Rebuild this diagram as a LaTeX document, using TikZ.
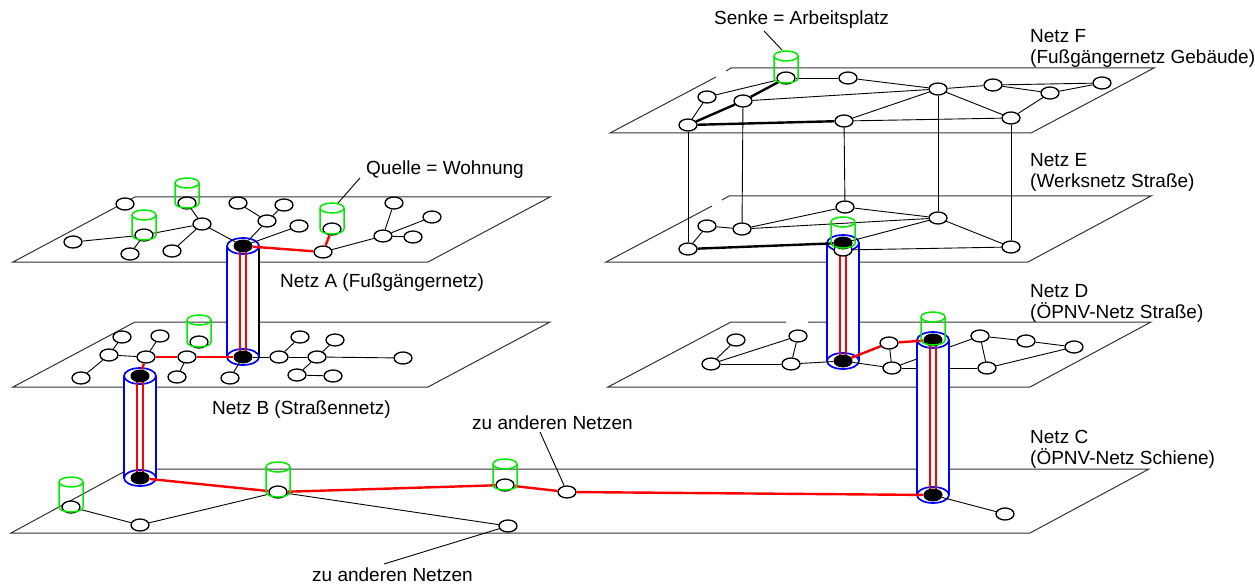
\documentclass[tikz,border=0pt]{standalone}
\usepackage{fontspec}
\setmainfont{Liberation Sans}
\usetikzlibrary{shapes.geometric,calc}
\definecolor{gr}{RGB}{0,235,0}
\pgfdeclarelayer{bg}\pgfdeclarelayer{tb}\pgfdeclarelayer{te}\pgfdeclarelayer{fg}
\pgfsetlayers{bg,main,tb,te,fg}
\newcommand\tubedraw[3]{%
 \fill[white] ($(#1)+(-16,0)$) rectangle ($(#2)+(16,0)$);
 \fill[white] (#2) ellipse[x radius=16,y radius=8];
 \draw[blue,line width=1.7pt] ($(#1)+(-16,0)$) -- ($(#2)+(-16,0)$);
 \draw[#3,line width=1.7pt] ($(#1)+(16,0)$) -- ($(#2)+(16,0)$);
 \draw[blue,line width=1.7pt] (#1) ellipse[x radius=16,y radius=8];
 \draw[blue,line width=1.7pt] (#2) ellipse[x radius=16,y radius=8];
 \draw[red,line width=1.8pt] ($(#1)+(-2.7,0)$) -- ($(#2)+(-2.7,0)$);
 \draw[red,line width=2.1pt] ($(#1)+(2.7,0)$) -- ($(#2)+(2.7,0)$);
}
\newcommand\gcyl[2][22]{%
 \draw[gr,line width=1.5pt] ($(#2)+(-12,-#1)$) -- ($(#2)+(-12,0)$) arc[start angle=180,end angle=0,x radius=12,y radius=5] -- ($(#2)+(12,-#1)$);
 \draw[gr,line width=1.5pt] ($(#2)+(0,-#1)$) ellipse[x radius=12,y radius=5];
}
\begin{document}
\begin{tikzpicture}[x=1pt,y=-1pt,
  plane/.style={draw=black!80,line width=1pt},
  nd/.style={ellipse,draw,line width=1.3pt,fill=white,minimum width=18pt,minimum height=12pt,inner sep=0pt},
  bn/.style={ellipse,fill=black,minimum width=19pt,minimum height=13pt,inner sep=0pt},
  ed/.style={line width=0.9pt},
  thk/.style={line width=2.4pt},
  rd/.style={draw=red,line width=2.4pt},
  lbl/.style={font=\fontsize{19}{21}\selectfont,inner sep=0pt,anchor=west,align=left}]
\useasboundingbox (0,0) rectangle (1255,588);

% ---------- black tube nodes (top layer)
\begin{pgfonlayer}{fg}
\node[bn] (aT) at (243,246) {};
\node[bn] (bT) at (243,357) {};
\node[bn] (bT2) at (140,376) {};
\node[bn] (cT) at (140,478) {};
\node[bn] (cT2) at (933,495) {};
\node[bn] (dT) at (843,361) {};
\node[bn] (dT2) at (933,340) {};
\node[bn] (eT) at (843,243) {};
\end{pgfonlayer}

% ---------- regular nodes
% plane A
\node[nd] (a1) at (125,204) {};
\node[nd] (a2) at (73,242) {};
\node[nd] (a3) at (144,235) {};
\node[nd] (a4) at (130,254) {};
\node[nd] (a5) at (187,203) {};
\node[nd] (a6) at (202,224) {};
\node[nd] (a7) at (172,251) {};
\node[nd] (a8) at (238,203) {};
\node[nd] (a9) at (284,205) {};
\node[nd] (a10) at (267,221) {};
\node[nd] (a11) at (299,226) {};
\node[nd] (a12) at (332,229) {};
\node[nd] (a13) at (323,252) {};
\node[nd] (a14) at (394,203) {};
\node[nd] (a15) at (383,236) {};
\node[nd] (a16) at (432,217) {};
\node[nd] (a17) at (413,237) {};
% plane B
\node[nd] (b1) at (122,337) {};
\node[nd] (b2) at (160,336) {};
\node[nd] (b3) at (109,355) {};
\node[nd] (b4) at (146,357) {};
\node[nd] (b5) at (81,378) {};
\node[nd] (b6) at (177,377) {};
\node[nd] (b7) at (187,357) {};
\node[nd] (b8) at (199,342) {};
\node[nd] (b9) at (230,378) {};
\node[nd] (b10) at (279,357) {};
\node[nd] (b11) at (300,337) {};
\node[nd] (b12) at (317,357) {};
\node[nd] (b13) at (335,340) {};
\node[nd] (b14) at (297,375) {};
\node[nd] (b15) at (333,376) {};
\node[nd] (b16) at (403,358) {};
% plane C
\node[nd] (c1) at (71,507) {};
\node[nd] (c2) at (140,525) {};
\node[nd] (c3) at (278,492) {};
\node[nd] (c4) at (508,526) {};
\node[nd] (c5) at (505,485) {};
\node[nd] (c6) at (567,492) {};
\node[nd] (c7) at (1005,514) {};
% plane D
\node[nd] (d1) at (736,340) {};
\node[nd] (d2) at (798,336) {};
\node[nd] (d3) at (711,364) {};
\node[nd] (d4) at (791,364) {};
\node[nd] (d5) at (889,343) {};
\node[nd] (d6) at (892,368) {};
\node[nd] (d7) at (980,336) {};
\node[nd] (d8) at (1026,341) {};
\node[nd] (d9) at (987,368) {};
\node[nd] (d10) at (1074,347) {};
% plane E
\node[nd] (e1) at (688,249) {};
\node[nd] (e2) at (707,226) {};
\node[nd] (e3) at (742,229) {};
\node[nd] (e4) at (845,207) {};
\node[nd] (e6) at (938,218) {};
\node[nd] (e7) at (1011,247) {};
% plane F
\node[nd] (f1) at (786,78) {};
\node[nd] (f2) at (848,78) {};
\node[nd] (f3) at (707,97) {};
\node[nd] (f4) at (743,101) {};
\node[nd] (f5) at (688,125) {};
\node[nd] (f6) at (844,121) {};
\node[nd] (f7) at (938,89) {};
\node[nd] (f8) at (993,85) {};
\node[nd] (f9) at (1050,93) {};
\node[nd] (f10) at (1102,83) {};
\node[nd] (f11) at (1011,118) {};

% ---------- planes and regular edges
\begin{pgfonlayer}{bg}
\fill[white] (0,0) rectangle (1255,588);
\draw[plane] (13,262) -- (428,262) -- (550,197) -- (135,197) -- cycle;
\draw[plane] (13,387) -- (428,387) -- (550,322) -- (135,322) -- cycle;
\draw[plane] (11,533) -- (1030,533) -- (1149,469) -- (129,469) -- cycle;
\draw[plane] (786,322) -- (731,322) -- (608,387) -- (1030,387) -- (1151,322) -- (808,322);
\draw[plane] (712,206) -- (606,262) -- (1028,262) -- (1151,196) -- (729,196) -- (722,200);
\draw[plane] (716,77) -- (610,133) -- (1031,133) -- (1154,68) -- (731,68) -- (726,71);
% A
\draw[ed] (a2) -- (a3);
\draw[ed] (a3) -- (a6);
\draw[ed] (a4) -- (a3);
\draw[ed] (a5) -- (a6);
\draw[ed] (a6) -- (a7);
\draw[ed] (a8) -- (a10);
\draw[ed] (a9) -- (a10);
\draw[ed] (a13) -- (a15);
\draw[ed] (a15) -- (a14);
\draw[ed] (a15) -- (a16);
\draw[ed] (a15) -- (a17);
% B
\draw[ed] (b1) -- (b3);
\draw[ed] (b3) -- (b5);
\draw[ed] (b3) -- (b4);
\draw[ed] (b2) -- (b4);
\draw[ed] (b7) -- (b6);
\draw[ed] (b10) -- (b11);
\draw[ed] (b10) -- (b12);
\draw[ed] (b12) -- (b13);
\draw[ed] (b12) -- (b14);
\draw[ed] (b14) -- (b15);
\draw[ed] (b12) -- (b16);
% C
\draw[ed] (c1) -- (c2);
\draw[ed] (c2) -- (c3);
\draw[ed] (c3) -- (c4);
% D
\draw[ed] (d1) -- (d3);
\draw[ed] (d3) -- (d2);
\draw[ed] (d2) -- (d4);
\draw[ed] (d3) -- (d4);
\draw[ed] (d5) -- (d6);
\draw[ed] (d6) -- (d7);
\draw[ed] (d6) -- (d9);
\draw[ed] (d7) -- (d8);
\draw[ed] (d7) -- (d9);
\draw[ed] (d8) -- (d10);
\draw[ed] (d9) -- (d10);
% E
\draw[ed] (e1) -- (e2);
\draw[ed] (e2) -- (e3);
\draw[ed] (e3) -- (e4);
\draw[ed] (e4) -- (e6);
\draw[ed] (e3) -- (e6);
\draw[ed] (e6) -- (e7);
% F
\draw[ed] (f3) -- (f1);
\draw[thk] (f4) -- (f1);
\draw[ed] (f1) -- (f2);
\draw[ed] (f2) -- (f7);
\draw[ed] (f4) -- (f7);
\draw[ed] (f3) -- (f5);
\draw[thk] (f5) -- (f4);
\draw[thk] (f5) -- (f6);
\draw[ed] (f6) -- (f7);
\draw[ed] (f6) -- (f11);
\draw[ed] (f7) -- (f8);
\draw[ed] (f7) -- (f11);
\draw[ed] (f8) -- (f10);
\draw[ed] (f8) -- (f9);
\draw[ed] (f9) -- (f10);
\draw[ed] (f9) -- (f11);
% F to E
\draw[ed] (f5) -- (e1);
\draw[ed] (f4) -- (e3);
\draw[ed] (f6) -- (e4);
\draw[ed] (f7) -- (e6);
\draw[ed] (f11) -- (e7);
\end{pgfonlayer}

% ---------- tubes
\begin{pgfonlayer}{tb}
\tubedraw{aT}{bT}{black}
\tubedraw{bT2}{cT}{blue}
\tubedraw{eT}{dT}{blue}
\tubedraw{dT2}{cT2}{blue}
\end{pgfonlayer}

% ---------- edges at tube nodes
\begin{pgfonlayer}{te}
\node[nd] (e5) at (843,250) {};
\draw[ed] (a6) -- (aT);
\draw[ed] (aT) -- (a10);
\draw[ed] (aT) -- (a11);
\draw[rd] (aT) -- (a13);
\draw[rd] (a13) -- (a12);
\draw[rd] (b4) -- (b7);
\draw[rd] (b7) -- (bT);
\draw[rd] (b4) -- (bT2);
\draw[ed] (bT) -- (b9);
\draw[ed] (bT) -- (b10);
\draw[rd] (cT) -- (c3);
\draw[rd] (c3) -- (c5);
\draw[rd] (c5) -- (c6);
\draw[rd] (c6) -- (cT2);
\draw[ed] (cT2) -- (c7);
\draw[ed] (d4) -- (dT);
\draw[ed] (dT) -- (d6);
\draw[rd] (dT) -- (d5);
\draw[rd] (d5) -- (dT2);
\draw[thk] (e1) -- (eT);
\draw[ed] (eT) -- (e6);
\draw[ed] (e5) -- (e7);
\end{pgfonlayer}

% ---------- cylinders, labels
\begin{pgfonlayer}{fg}
\gcyl[20]{a5}
\gcyl[20]{a3}
\gcyl[21]{a12}
\gcyl[22]{b8}
\gcyl[25]{c1}
\gcyl[25]{c3}
\gcyl[21]{c5}
\gcyl[23]{dT2}
\gcyl[21]{eT}
\gcyl[22]{f1}

\node[lbl] (lsenke) at (714,20) {Senke = Arbeitsplatz};
\node[lbl] (lquelle) at (366,170) {Quelle = Wohnung};
\node[lbl] (lF) at (1030,48) {Netz F\\(Fußgängernetz Gebäude)};
\node[lbl] (lE) at (1030,172) {Netz E\\(Werksnetz Straße)};
\node[lbl] (lD) at (1030,303) {Netz D\\(ÖPNV-Netz Straße)};
\node[lbl] (lC) at (1030,449) {Netz C\\(ÖPNV-Netz Schiene)};
\node[lbl] (lA) at (280,283) {Netz A (Fußgängernetz)};
\node[lbl] (lB) at (212,410) {Netz B (Straßennetz)};
\node[lbl] (lz1) at (472,423) {zu anderen Netzen};
\node[lbl] (lz2) at (312,575) {zu anderen Netzen};

\coordinate (s1) at (764,31);
\coordinate (s2) at (782,50);
\coordinate (q1) at (360,178);
\coordinate (q2) at (338,203);
\coordinate (z1) at (540,432);
\coordinate (z2) at (384,564);
\draw[ed] (s1) -- (s2);
\draw[ed] (q1) -- (q2);
\draw[ed] (z1) -- (c6);
\draw[ed] (z2) -- (c4);
\end{pgfonlayer}
\end{tikzpicture}
\end{document}
